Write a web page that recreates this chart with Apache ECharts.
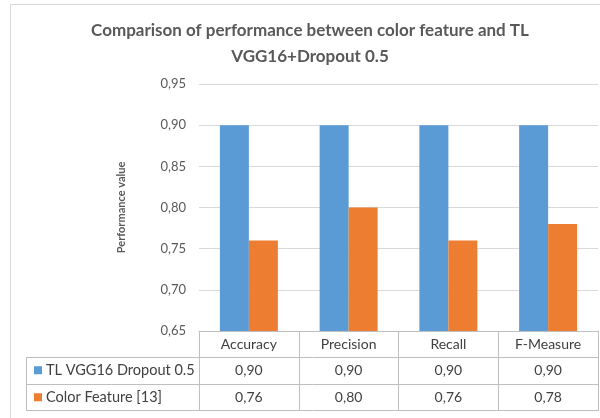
<!DOCTYPE html>
<html>
<head>
<meta charset="utf-8">
<script src="https://cdn.jsdelivr.net/npm/echarts@6/dist/echarts.min.js"></script>
<style>
html, body { margin: 0; padding: 0; background: #fff; }
#EchartMain { width: 600px; height: 418px; }
</style>
</head>
<body>
<div id="EchartMain"></div>
<script>
// data
const categories = ["Accuracy", "Precision", "Recall", "F-Measure"];
const seriesNames = ["TL VGG16 Dropout 0.5", "Color Feature [13]"];
const tlVgg16 = [0.90, 0.90, 0.90, 0.90];
const colorFeature = [0.76, 0.80, 0.76, 0.78];
const titleLines = ["Comparison of performance between color feature and TL", "VGG16+Dropout 0.5"];

const colors = ["#5b9bd5", "#ed7d31"];
const textColor = "#595959";
const tableLine = "#bfbfbf";
const font = "Lato, 'Open Sans', sans-serif";

// comma decimals like the original
const fmt = (v) => Number(v).toFixed(2).replace(".", ",");

const option = {
  animation: false,
  textStyle: { fontFamily: font },
  grid: { left: 199, right: 2, top: 84, bottom: 87 },
  xAxis: {
    type: "category",
    data: categories,
    axisLine: { lineStyle: { color: tableLine, width: 1 } },
    axisTick: { show: true, length: 79, lineStyle: { color: tableLine } },
    axisLabel: { color: "#404040", fontSize: 14, margin: 6, fontFamily: font },
  },
  yAxis: {
    type: "value",
    min: 0.65,
    max: 0.95,
    interval: 0.05,
    name: "Performance value",
    nameLocation: "middle",
    nameRotate: 90,
    nameGap: 72,
    nameTextStyle: { color: textColor, fontSize: 11, fontWeight: "bold", fontFamily: font },
    axisLine: { show: false },
    axisTick: { show: false },
    axisLabel: { color: textColor, fontSize: 13, margin: 13, formatter: fmt, fontFamily: font },
    splitLine: { lineStyle: { color: "#d9d9d9" } },
  },
  series: [
    { name: seriesNames[0], type: "bar", data: tlVgg16, barWidth: 29, barGap: "0%", itemStyle: { color: colors[0] } },
    { name: seriesNames[1], type: "bar", data: colorFeature, barWidth: 29, barGap: "0%", itemStyle: { color: colors[1] } },
  ],
};

const chartDom = document.getElementById("EchartMain");
const myChart = echarts.init(chartDom);
myChart.setOption(option);

// data table under the axis + title, built from the arrays
const rows = [tlVgg16, colorFeature];
const rowTop = [357, 384];
const rowH = 26.5;
const gfx = [];

// outer chart border
gfx.push({ type: "rect", shape: { x: 10.5, y: 4.5, width: 600, height: 420 }, style: { fill: null, stroke: "#d9d9d9", lineWidth: 1 }, silent: true });

titleLines.forEach((t, i) => {
  gfx.push({ type: "text", x: 310, y: 31 + i * 26, style: { text: t, fill: textColor, font: "bold 17px " + font, align: "center", verticalAlign: "middle" } });
});

// horizontal table lines
[357, 384, 410].forEach((y) => {
  gfx.push({ type: "line", shape: { x1: 26, y1: y + 0.5, x2: 599, y2: y + 0.5 }, style: { stroke: tableLine, lineWidth: 1 }, silent: true });
});
// left border of the label column
gfx.push({ type: "line", shape: { x1: 26.5, y1: 357, x2: 26.5, y2: 410 }, style: { stroke: tableLine, lineWidth: 1 }, silent: true });

rows.forEach((vals, r) => {
  const cy = rowTop[r] + rowH / 2;
  gfx.push({ type: "rect", shape: { x: 34, y: cy - 4, width: 8, height: 8 }, style: { fill: colors[r] } });
  gfx.push({ type: "text", x: 46, y: cy, style: { text: seriesNames[r], fill: "#404040", font: "14.5px " + font, verticalAlign: "middle" } });
  vals.forEach((v, c) => {
    const x = myChart.convertToPixel({ xAxisIndex: 0 }, categories[c]);
    gfx.push({ type: "text", x: x, y: cy, style: { text: fmt(v), fill: "#404040", font: "14px " + font, align: "center", verticalAlign: "middle" } });
  });
});

myChart.setOption({ graphic: gfx });
</script>
</body>
</html>
